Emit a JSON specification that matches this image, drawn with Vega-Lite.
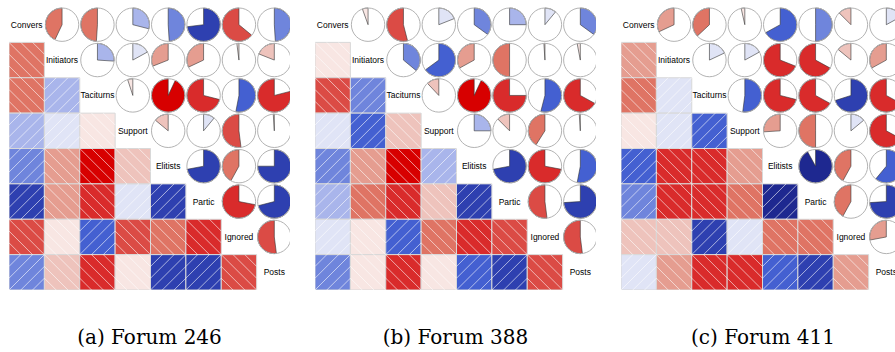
{
 "$schema": "https://vega.github.io/schema/vega-lite/v6.json",
 "padding": {"left": 9, "top": 7, "right": 0, "bottom": 0},
 "spacing": 25,
 "bounds": "flush",
 "config": {"view": {"stroke": null}},
 "resolve": {"scale": {"x": "independent", "y": "independent"}},
 "datasets": {
  "vars": [{"name": "Convers"}, {"name": "Initiators"}, {"name": "Taciturns"}, {"name": "Support"}, {"name": "Elitists"}, {"name": "Partic"}, {"name": "Ignored"}, {"name": "Posts"}],
  "pairs": [
   {"f": "a", "v1": "Convers", "v2": "Initiators", "r": -0.43},
   {"f": "a", "v1": "Convers", "v2": "Taciturns", "r": -0.49},
   {"f": "a", "v1": "Convers", "v2": "Support", "r": 0.29},
   {"f": "a", "v1": "Convers", "v2": "Elitists", "r": 0.49},
   {"f": "a", "v1": "Convers", "v2": "Partic", "r": 0.73},
   {"f": "a", "v1": "Convers", "v2": "Ignored", "r": -0.64},
   {"f": "a", "v1": "Convers", "v2": "Posts", "r": 0.49},
   {"f": "a", "v1": "Initiators", "v2": "Taciturns", "r": 0.26},
   {"f": "a", "v1": "Initiators", "v2": "Support", "r": 0.17},
   {"f": "a", "v1": "Initiators", "v2": "Elitists", "r": -0.31},
   {"f": "a", "v1": "Initiators", "v2": "Partic", "r": -0.32},
   {"f": "a", "v1": "Initiators", "v2": "Ignored", "r": -0.02},
   {"f": "a", "v1": "Initiators", "v2": "Posts", "r": -0.19},
   {"f": "a", "v1": "Taciturns", "v2": "Support", "r": -0.05},
   {"f": "a", "v1": "Taciturns", "v2": "Elitists", "r": -0.93},
   {"f": "a", "v1": "Taciturns", "v2": "Partic", "r": -0.71},
   {"f": "a", "v1": "Taciturns", "v2": "Ignored", "r": 0.53},
   {"f": "a", "v1": "Taciturns", "v2": "Posts", "r": -0.79},
   {"f": "a", "v1": "Support", "v2": "Elitists", "r": -0.14},
   {"f": "a", "v1": "Support", "v2": "Partic", "r": 0.11},
   {"f": "a", "v1": "Support", "v2": "Ignored", "r": -0.52},
   {"f": "a", "v1": "Support", "v2": "Posts", "r": -0.01},
   {"f": "a", "v1": "Elitists", "v2": "Partic", "r": 0.72},
   {"f": "a", "v1": "Elitists", "v2": "Ignored", "r": -0.42},
   {"f": "a", "v1": "Elitists", "v2": "Posts", "r": 0.75},
   {"f": "a", "v1": "Partic", "v2": "Ignored", "r": -0.72},
   {"f": "a", "v1": "Partic", "v2": "Posts", "r": 0.71},
   {"f": "a", "v1": "Ignored", "v2": "Posts", "r": -0.52},
   {"f": "b", "v1": "Convers", "v2": "Initiators", "r": -0.055},
   {"f": "b", "v1": "Convers", "v2": "Taciturns", "r": -0.54},
   {"f": "b", "v1": "Convers", "v2": "Support", "r": 0.19},
   {"f": "b", "v1": "Convers", "v2": "Elitists", "r": 0.35},
   {"f": "b", "v1": "Convers", "v2": "Partic", "r": 0.25},
   {"f": "b", "v1": "Convers", "v2": "Ignored", "r": 0.11},
   {"f": "b", "v1": "Convers", "v2": "Posts", "r": 0.35},
   {"f": "b", "v1": "Initiators", "v2": "Taciturns", "r": 0.36},
   {"f": "b", "v1": "Initiators", "v2": "Support", "r": 0.65},
   {"f": "b", "v1": "Initiators", "v2": "Elitists", "r": -0.33},
   {"f": "b", "v1": "Initiators", "v2": "Partic", "r": -0.5},
   {"f": "b", "v1": "Initiators", "v2": "Ignored", "r": -0.01},
   {"f": "b", "v1": "Initiators", "v2": "Posts", "r": -0.03},
   {"f": "b", "v1": "Taciturns", "v2": "Support", "r": -0.12},
   {"f": "b", "v1": "Taciturns", "v2": "Elitists", "r": -0.93},
   {"f": "b", "v1": "Taciturns", "v2": "Partic", "r": -0.75},
   {"f": "b", "v1": "Taciturns", "v2": "Ignored", "r": 0.54},
   {"f": "b", "v1": "Taciturns", "v2": "Posts", "r": -0.67},
   {"f": "b", "v1": "Support", "v2": "Elitists", "r": 0.25},
   {"f": "b", "v1": "Support", "v2": "Partic", "r": -0.125},
   {"f": "b", "v1": "Support", "v2": "Ignored", "r": -0.41},
   {"f": "b", "v1": "Support", "v2": "Posts", "r": -0.01},
   {"f": "b", "v1": "Elitists", "v2": "Partic", "r": 0.72},
   {"f": "b", "v1": "Elitists", "v2": "Ignored", "r": -0.72},
   {"f": "b", "v1": "Elitists", "v2": "Posts", "r": 0.53},
   {"f": "b", "v1": "Partic", "v2": "Ignored", "r": -0.52},
   {"f": "b", "v1": "Partic", "v2": "Posts", "r": 0.74},
   {"f": "b", "v1": "Ignored", "v2": "Posts", "r": -0.52},
   {"f": "c", "v1": "Convers", "v2": "Initiators", "r": -0.32},
   {"f": "c", "v1": "Convers", "v2": "Taciturns", "r": -0.37},
   {"f": "c", "v1": "Convers", "v2": "Support", "r": -0.035},
   {"f": "c", "v1": "Convers", "v2": "Elitists", "r": 0.67},
   {"f": "c", "v1": "Convers", "v2": "Partic", "r": 0.5},
   {"f": "c", "v1": "Convers", "v2": "Ignored", "r": -0.125},
   {"f": "c", "v1": "Convers", "v2": "Posts", "r": 0.17},
   {"f": "c", "v1": "Initiators", "v2": "Taciturns", "r": 0.18},
   {"f": "c", "v1": "Initiators", "v2": "Support", "r": 0.17},
   {"f": "c", "v1": "Initiators", "v2": "Elitists", "r": -0.69},
   {"f": "c", "v1": "Initiators", "v2": "Partic", "r": -0.67},
   {"f": "c", "v1": "Initiators", "v2": "Ignored", "r": -0.14},
   {"f": "c", "v1": "Initiators", "v2": "Posts", "r": -0.33},
   {"f": "c", "v1": "Taciturns", "v2": "Support", "r": 0.52},
   {"f": "c", "v1": "Taciturns", "v2": "Elitists", "r": -0.71},
   {"f": "c", "v1": "Taciturns", "v2": "Partic", "r": -0.67},
   {"f": "c", "v1": "Taciturns", "v2": "Ignored", "r": 0.7},
   {"f": "c", "v1": "Taciturns", "v2": "Posts", "r": -0.67},
   {"f": "c", "v1": "Support", "v2": "Elitists", "r": -0.26},
   {"f": "c", "v1": "Support", "v2": "Partic", "r": -0.5},
   {"f": "c", "v1": "Support", "v2": "Ignored", "r": 0.14},
   {"f": "c", "v1": "Support", "v2": "Posts", "r": -0.67},
   {"f": "c", "v1": "Elitists", "v2": "Partic", "r": 0.92},
   {"f": "c", "v1": "Elitists", "v2": "Ignored", "r": -0.42},
   {"f": "c", "v1": "Elitists", "v2": "Posts", "r": 0.61},
   {"f": "c", "v1": "Partic", "v2": "Ignored", "r": -0.42},
   {"f": "c", "v1": "Partic", "v2": "Posts", "r": 0.74},
   {"f": "c", "v1": "Ignored", "v2": "Posts", "r": -0.28}
  ]
 },
 "hconcat": [
  {
   "width": 281, "height": 283,
   "title": {"text": "(a) Forum 246", "orient": "bottom", "anchor": "middle", "font": "DejaVu Serif", "fontSize": 20, "fontWeight": "normal", "color": "#000000", "offset": 38},
   "layer": [
    {"data": {"name": "pairs"}, "transform": [{"filter": "datum.f == 'a'"}],
     "mark": {"type": "rect", "stroke": "#d8d8d8", "strokeWidth": 1, "clip": true},
     "encoding": {
      "x": {"field": "v1", "type": "nominal", "axis": null, "scale": {"domain": ["Convers","Initiators","Taciturns","Support","Elitists","Partic","Ignored","Posts"], "range": [0, 283], "paddingInner": 0, "paddingOuter": 0}},
      "y": {"field": "v2", "type": "nominal", "axis": null, "scale": {"domain": ["Convers","Initiators","Taciturns","Support","Elitists","Partic","Ignored","Posts"], "paddingInner": 0, "paddingOuter": 0}},
      "color": {"field": "r", "type": "quantitative", "legend": null, "scale": {"type": "threshold", "domain": [-0.86,-0.66,-0.505,-0.34,-0.22,-0.09,0,0.22,0.32,0.515,0.685,0.8,0.9], "range": ["#d70000","#d92b2b","#db4b45","#df7464","#e59d90","#eec3bc","#f8e6e3","#e0e4f6","#a9b5eb","#6f85dc","#4460d1","#2e40b0","#24309c","#1e2890"]}}
     }},
    {"data": {"name": "pairs"}, "transform": [{"filter": "datum.f == 'a'"}],
     "mark": {"type": "point", "filled": false, "color": "white", "stroke": "white", "strokeWidth": 0.8, "opacity": 0.75, "size": 1251, "clip": true},
     "encoding": {
      "x": {"field": "v1", "type": "nominal", "axis": null},
      "y": {"field": "v2", "type": "nominal", "axis": null},
      "shape": {"condition": {"test": "datum.r > 0", "value": "M-1,-0.333L-0.333,-1M-1,0.333L0.333,-1M-1,1L1,-1M-0.333,1L1,-0.333M0.333,1L1,0.333"}, "value": "M1,-0.333L0.333,-1M1,0.333L-0.333,-1M1,1L-1,-1M0.333,1L-1,-0.333M-0.333,1L-1,0.333"}
     }},
    {"data": {"name": "pairs"}, "transform": [{"filter": "datum.f == 'a'"}],
     "mark": {"type": "arc", "radius": 16.7, "stroke": "#333333", "strokeWidth": 0.6, "clip": true},
     "encoding": {
      "x": {"field": "v2", "type": "nominal", "axis": null},
      "y": {"field": "v1", "type": "nominal", "axis": null},
      "theta": {"field": "r", "type": "quantitative", "stack": null, "scale": {"domain": [-1, 1], "range": [-6.283185, 6.283185]}},
      "theta2": {"datum": 0},
      "color": {"field": "r", "type": "quantitative", "legend": null, "scale": {"type": "threshold", "domain": [-0.86,-0.66,-0.505,-0.34,-0.22,-0.09,0,0.22,0.32,0.515,0.685,0.8,0.9], "range": ["#d70000","#d92b2b","#db4b45","#df7464","#e59d90","#eec3bc","#f8e6e3","#e0e4f6","#a9b5eb","#6f85dc","#4460d1","#2e40b0","#24309c","#1e2890"]}}
     }},
    {"data": {"name": "pairs"}, "transform": [{"filter": "datum.f == 'a'"}],
     "mark": {"type": "point", "shape": "circle", "filled": false, "stroke": "#b3b3b3", "strokeWidth": 1, "opacity": 1, "size": 1115, "clip": true},
     "encoding": {
      "x": {"field": "v2", "type": "nominal", "axis": null},
      "y": {"field": "v1", "type": "nominal", "axis": null}
     }},
    {"data": {"name": "vars"},
     "mark": {"type": "text", "font": "Liberation Sans", "fontSize": 8.5, "color": "#000000", "align": "center", "baseline": "middle", "clip": true},
     "encoding": {
      "x": {"field": "name", "type": "nominal", "axis": null},
      "y": {"field": "name", "type": "nominal", "axis": null},
      "text": {"field": "name"}
     }}
   ]
  },
  {
   "width": 281, "height": 283,
   "title": {"text": "(b) Forum 388", "orient": "bottom", "anchor": "middle", "font": "DejaVu Serif", "fontSize": 20, "fontWeight": "normal", "color": "#000000", "offset": 38},
   "layer": [
    {"data": {"name": "pairs"}, "transform": [{"filter": "datum.f == 'b'"}],
     "mark": {"type": "rect", "stroke": "#d8d8d8", "strokeWidth": 1, "clip": true},
     "encoding": {
      "x": {"field": "v1", "type": "nominal", "axis": null, "scale": {"domain": ["Convers","Initiators","Taciturns","Support","Elitists","Partic","Ignored","Posts"], "range": [0, 283], "paddingInner": 0, "paddingOuter": 0}},
      "y": {"field": "v2", "type": "nominal", "axis": null, "scale": {"domain": ["Convers","Initiators","Taciturns","Support","Elitists","Partic","Ignored","Posts"], "paddingInner": 0, "paddingOuter": 0}},
      "color": {"field": "r", "type": "quantitative", "legend": null, "scale": {"type": "threshold", "domain": [-0.86,-0.66,-0.505,-0.34,-0.22,-0.09,0,0.22,0.32,0.515,0.685,0.8,0.9], "range": ["#d70000","#d92b2b","#db4b45","#df7464","#e59d90","#eec3bc","#f8e6e3","#e0e4f6","#a9b5eb","#6f85dc","#4460d1","#2e40b0","#24309c","#1e2890"]}}
     }},
    {"data": {"name": "pairs"}, "transform": [{"filter": "datum.f == 'b'"}],
     "mark": {"type": "point", "filled": false, "color": "white", "stroke": "white", "strokeWidth": 0.8, "opacity": 0.75, "size": 1251, "clip": true},
     "encoding": {
      "x": {"field": "v1", "type": "nominal", "axis": null},
      "y": {"field": "v2", "type": "nominal", "axis": null},
      "shape": {"condition": {"test": "datum.r > 0", "value": "M-1,-0.333L-0.333,-1M-1,0.333L0.333,-1M-1,1L1,-1M-0.333,1L1,-0.333M0.333,1L1,0.333"}, "value": "M1,-0.333L0.333,-1M1,0.333L-0.333,-1M1,1L-1,-1M0.333,1L-1,-0.333M-0.333,1L-1,0.333"}
     }},
    {"data": {"name": "pairs"}, "transform": [{"filter": "datum.f == 'b'"}],
     "mark": {"type": "arc", "radius": 16.7, "stroke": "#333333", "strokeWidth": 0.6, "clip": true},
     "encoding": {
      "x": {"field": "v2", "type": "nominal", "axis": null},
      "y": {"field": "v1", "type": "nominal", "axis": null},
      "theta": {"field": "r", "type": "quantitative", "stack": null, "scale": {"domain": [-1, 1], "range": [-6.283185, 6.283185]}},
      "theta2": {"datum": 0},
      "color": {"field": "r", "type": "quantitative", "legend": null, "scale": {"type": "threshold", "domain": [-0.86,-0.66,-0.505,-0.34,-0.22,-0.09,0,0.22,0.32,0.515,0.685,0.8,0.9], "range": ["#d70000","#d92b2b","#db4b45","#df7464","#e59d90","#eec3bc","#f8e6e3","#e0e4f6","#a9b5eb","#6f85dc","#4460d1","#2e40b0","#24309c","#1e2890"]}}
     }},
    {"data": {"name": "pairs"}, "transform": [{"filter": "datum.f == 'b'"}],
     "mark": {"type": "point", "shape": "circle", "filled": false, "stroke": "#b3b3b3", "strokeWidth": 1, "opacity": 1, "size": 1115, "clip": true},
     "encoding": {
      "x": {"field": "v2", "type": "nominal", "axis": null},
      "y": {"field": "v1", "type": "nominal", "axis": null}
     }},
    {"data": {"name": "vars"},
     "mark": {"type": "text", "font": "Liberation Sans", "fontSize": 8.5, "color": "#000000", "align": "center", "baseline": "middle", "clip": true},
     "encoding": {
      "x": {"field": "name", "type": "nominal", "axis": null},
      "y": {"field": "name", "type": "nominal", "axis": null},
      "text": {"field": "name"}
     }}
   ]
  },
  {
   "width": 274, "height": 283,
   "title": {"text": "(c) Forum 411", "orient": "bottom", "anchor": "middle", "dx": 5, "font": "DejaVu Serif", "fontSize": 20, "fontWeight": "normal", "color": "#000000", "offset": 38},
   "layer": [
    {"data": {"name": "pairs"}, "transform": [{"filter": "datum.f == 'c'"}],
     "mark": {"type": "rect", "stroke": "#d8d8d8", "strokeWidth": 1, "clip": true},
     "encoding": {
      "x": {"field": "v1", "type": "nominal", "axis": null, "scale": {"domain": ["Convers","Initiators","Taciturns","Support","Elitists","Partic","Ignored","Posts"], "range": [0, 283], "paddingInner": 0, "paddingOuter": 0}},
      "y": {"field": "v2", "type": "nominal", "axis": null, "scale": {"domain": ["Convers","Initiators","Taciturns","Support","Elitists","Partic","Ignored","Posts"], "paddingInner": 0, "paddingOuter": 0}},
      "color": {"field": "r", "type": "quantitative", "legend": null, "scale": {"type": "threshold", "domain": [-0.86,-0.66,-0.505,-0.34,-0.22,-0.09,0,0.22,0.32,0.515,0.685,0.8,0.9], "range": ["#d70000","#d92b2b","#db4b45","#df7464","#e59d90","#eec3bc","#f8e6e3","#e0e4f6","#a9b5eb","#6f85dc","#4460d1","#2e40b0","#24309c","#1e2890"]}}
     }},
    {"data": {"name": "pairs"}, "transform": [{"filter": "datum.f == 'c'"}],
     "mark": {"type": "point", "filled": false, "color": "white", "stroke": "white", "strokeWidth": 0.8, "opacity": 0.75, "size": 1251, "clip": true},
     "encoding": {
      "x": {"field": "v1", "type": "nominal", "axis": null},
      "y": {"field": "v2", "type": "nominal", "axis": null},
      "shape": {"condition": {"test": "datum.r > 0", "value": "M-1,-0.333L-0.333,-1M-1,0.333L0.333,-1M-1,1L1,-1M-0.333,1L1,-0.333M0.333,1L1,0.333"}, "value": "M1,-0.333L0.333,-1M1,0.333L-0.333,-1M1,1L-1,-1M0.333,1L-1,-0.333M-0.333,1L-1,0.333"}
     }},
    {"data": {"name": "pairs"}, "transform": [{"filter": "datum.f == 'c'"}],
     "mark": {"type": "arc", "radius": 16.7, "stroke": "#333333", "strokeWidth": 0.6, "clip": true},
     "encoding": {
      "x": {"field": "v2", "type": "nominal", "axis": null},
      "y": {"field": "v1", "type": "nominal", "axis": null},
      "theta": {"field": "r", "type": "quantitative", "stack": null, "scale": {"domain": [-1, 1], "range": [-6.283185, 6.283185]}},
      "theta2": {"datum": 0},
      "color": {"field": "r", "type": "quantitative", "legend": null, "scale": {"type": "threshold", "domain": [-0.86,-0.66,-0.505,-0.34,-0.22,-0.09,0,0.22,0.32,0.515,0.685,0.8,0.9], "range": ["#d70000","#d92b2b","#db4b45","#df7464","#e59d90","#eec3bc","#f8e6e3","#e0e4f6","#a9b5eb","#6f85dc","#4460d1","#2e40b0","#24309c","#1e2890"]}}
     }},
    {"data": {"name": "pairs"}, "transform": [{"filter": "datum.f == 'c'"}],
     "mark": {"type": "point", "shape": "circle", "filled": false, "stroke": "#b3b3b3", "strokeWidth": 1, "opacity": 1, "size": 1115, "clip": true},
     "encoding": {
      "x": {"field": "v2", "type": "nominal", "axis": null},
      "y": {"field": "v1", "type": "nominal", "axis": null}
     }},
    {"data": {"name": "vars"},
     "mark": {"type": "text", "font": "Liberation Sans", "fontSize": 8.5, "color": "#000000", "align": "center", "baseline": "middle", "clip": true},
     "encoding": {
      "x": {"field": "name", "type": "nominal", "axis": null},
      "y": {"field": "name", "type": "nominal", "axis": null},
      "text": {"field": "name"}
     }}
   ]
  }
 ]
}
